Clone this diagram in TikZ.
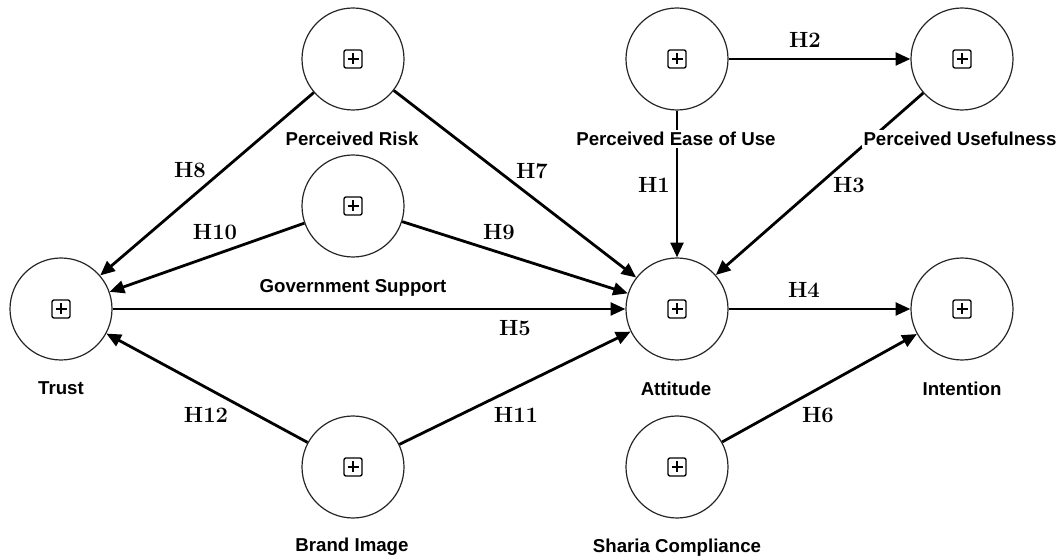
\documentclass[tikz,border=0pt]{standalone}
\usepackage{fontspec}
\newfontfamily\lblfont{Liberation Sans}
\usetikzlibrary{arrows.meta,positioning}

\tikzset{
  construct/.style={circle,draw=black!85,line width=0.9pt,minimum size=76.5pt,inner sep=0pt},
  hyparrow/.style={line width=2.1pt,-{Triangle[length=11pt,width=9.5pt]}},
  hyp/.style={font=\bfseries\fontsize{16.5}{18}\selectfont,inner sep=0.75pt},
  varname/.style={font=\lblfont\bfseries\fontsize{14}{16}\selectfont,fill=white,inner sep=1.5pt},
}

\begin{document}
\begin{tikzpicture}[x=0.75pt,y=-0.75pt]
\useasboundingbox (0,0) rectangle (1064,559);

%Shape: Circles (constructs)
\node [construct] (trust)  at (61,309)  {};
\node [construct] (risk)   at (353,59)  {};
\node [construct] (gov)    at (353,206) {};
\node [construct] (peou)   at (677,59)  {};
\node [construct] (pu)     at (962,59)  {};
\node [construct] (att)    at (677,309) {};
\node [construct] (intent) at (962,309) {};
\node [construct] (brand)  at (353,467) {};
\node [construct] (sharia) at (677,467) {};

%Shape: boxed plus inside each circle
\foreach \c in {trust,risk,gov,peou,pu,att,intent,brand,sharia}{
  \draw [line width=1pt,rounded corners=1.5pt] ([shift={(-9,-9)}]\c.center) rectangle ([shift={(9,9)}]\c.center);
  \draw [line width=1pt] ([shift={(-5.5,0)}]\c.center) -- ([shift={(5.5,0)}]\c.center)
        ([shift={(0,-5.5)}]\c.center) -- ([shift={(0,5.5)}]\c.center);
}

%Straight Lines: hypotheses
\draw [hyparrow] (risk) -- (trust);
\draw [hyparrow] (risk) -- (att);
\draw [hyparrow] (gov) -- (trust);
\draw [hyparrow] (gov) -- (att);
\draw [hyparrow] (trust) -- (att);
\draw [hyparrow] (peou) -- (pu);
\draw [hyparrow] (peou) -- (att);
\draw [hyparrow] (pu) -- (att);
\draw [hyparrow] (att) -- (intent);
\draw [hyparrow] (brand) -- (trust);
\draw [hyparrow] (brand) -- (att);
\draw [hyparrow] (sharia) -- (intent);

% Text Node: construct names
\node [varname] (ltrust)  at (61,388)  {Trust};
\node [varname] (lrisk)   at (352,139) {Perceived Risk};
\node [varname] (lgov)    at (353,288) {Government Support};
\node [varname] (lpeou)   at (676,139) {Perceived Ease of Use};
\node [varname] (lpu)     at (960,139) {Perceived Usefulness};
\node [varname] (latt)    at (676,389) {Attitude};
\node [varname] (lintent) at (962,389) {Intention};
\node [varname] (lbrand)  at (352,547) {Brand Image};
\node [varname] (lsharia) at (677,548) {Sharia Compliance};

% Text Node: hypothesis labels
\node [hyp] (h1)  at (654,185) {H1};
\node [hyp] (h2)  at (805,40)  {H2};
\node [hyp] (h3)  at (849,185) {H3};
\node [hyp] (h4)  at (804,290) {H4};
\node [hyp] (h5)  at (515,328) {H5};
\node [hyp] (h6)  at (818,415) {H6};
\node [hyp] (h7)  at (532,171) {H7};
\node [hyp] (h8)  at (190,170) {H8};
\node [hyp] (h9)  at (499,232) {H9};
\node [hyp] (h10) at (215,232) {H10};
\node [hyp] (h11) at (516,415) {H11};
\node [hyp] (h12) at (206,415) {H12};

\end{tikzpicture}
\end{document}
